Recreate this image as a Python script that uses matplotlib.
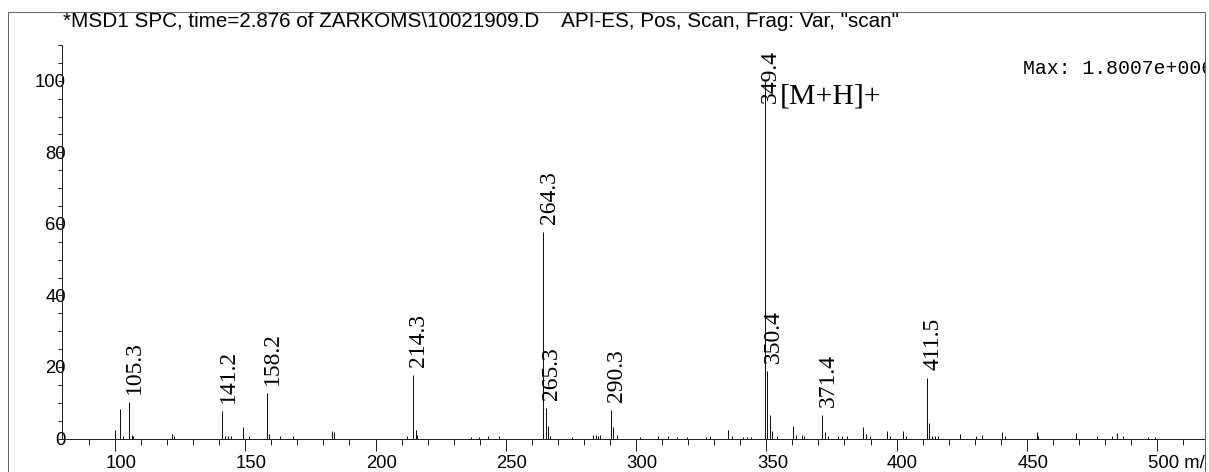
import matplotlib
matplotlib.use("Agg")
import matplotlib.pyplot as plt
from matplotlib.transforms import ScaledTranslation, Bbox, TransformedBbox
from matplotlib.patches import Rectangle

# ---------------- data ----------------
title = '*MSD1 SPC, time=2.876 of ZARKOMS\\10021909.D    API-ES, Pos, Scan, Frag: Var, "scan"'
max_text = "Max: 1.8007e+006"
ion_label = "[M+H]+"

labeled_mz = [105.3, 141.2, 158.2, 214.3, 264.3, 265.3, 290.3, 349.4, 350.4, 371.4, 411.5]
labeled_int = [10.1, 7.6, 12.6, 17.7, 57.8, 8.4, 7.9, 100.0, 18.9, 6.7, 17.0]

minor_mz = [100.0, 102.1, 103.1, 106.4, 106.9, 122.0, 122.7, 142.3, 143.4, 144.6,
            149.1, 151.3, 159.0, 163.5, 168.3, 183.3, 184.2, 212.2, 215.5, 216.1,
            236.5, 239.7, 243.0, 247.4, 266.2, 266.9, 275.3, 283.5, 284.5, 285.4,
            286.3, 291.3, 292.5, 301.5, 308.3, 312.4, 315.6, 319.5, 327.0, 328.5,
            335.4, 336.7, 341.0, 342.6, 344.0, 351.4, 352.3, 354.0, 360.4, 361.3,
            363.6, 364.6, 372.6, 373.5, 377.6, 379.0, 380.9, 387.3, 388.3, 389.8,
            396.5, 397.5, 402.6, 403.6, 412.4, 413.5, 414.6, 416.0, 424.5, 430.5,
            432.7, 440.6, 441.6, 453.8, 454.4, 468.9, 476.9, 482.6, 484.8, 487.0,
            496.5, 499.2]
minor_int = [2.3, 8.3, 0.6, 1.0, 0.7, 1.3, 0.6, 0.7, 0.7, 0.6,
             3.1, 0.8, 1.2, 0.6, 0.6, 2.2, 1.8, 0.7, 2.3, 0.9,
             0.5, 0.5, 0.6, 0.6, 3.4, 0.7, 0.5, 0.9, 1.0, 0.8,
             1.0, 3.2, 0.9, 0.5, 0.7, 0.6, 0.5, 0.5, 0.5, 0.6,
             2.3, 0.6, 0.5, 0.5, 0.5, 6.7, 2.2, 0.6, 3.4, 1.0,
             1.1, 0.7, 1.8, 0.8, 0.7, 0.6, 0.7, 3.1, 1.2, 0.6,
             2.0, 0.8, 2.0, 0.7, 4.4, 0.8, 0.7, 0.6, 1.2, 0.8,
             0.9, 1.8, 0.6, 1.8, 0.8, 1.6, 0.6, 0.7, 1.6, 0.8,
             0.5, 0.5]

x_major = [100, 150, 200, 250, 300, 350, 400, 450, 500]
x_labels = ["100", "150", "200", "250", "300", "350", "400", "450", "500 m/z"]
y_major = [0, 20, 40, 60, 80, 100]

# ---------------- figure ----------------
W, H, DPI = 1209, 472, 100
fig = plt.figure(figsize=(W / DPI, H / DPI), dpi=DPI)
px = 72.0 / DPI  # points per pixel

ax_l, ax_r, ax_t, ax_b = 62, 1205, 45, 438.5
ax = fig.add_axes([ax_l / W, (H - ax_b) / H, (ax_r - ax_l) / W, (ax_b - ax_t) / H])
ax.set_xlim(79.65, 518.4)
ax.set_ylim(0, 110)
for s in ["top", "right"]:
    ax.spines[s].set_visible(False)
for s in ["left", "bottom"]:
    ax.spines[s].set_linewidth(1 * px)
    ax.spines[s].set_color("#222222")
ax.patch.set_visible(False)

# peaks
ax.vlines(minor_mz, 0, minor_int, color="#111111", lw=1 * px)
ax.vlines(labeled_mz, 0, labeled_int, color="#111111", lw=1 * px)

# ticks
ax.set_xticks(x_major)
ax.set_xticklabels(x_labels)
ax.set_xticks(list(range(90, 520, 10)), minor=True)
ax.set_yticks(y_major)
ax.set_yticklabels([str(v) for v in y_major])
ax.set_yticks(list(range(0, 111, 5)), minor=True)
ax.tick_params(axis="x", which="major", direction="out", length=12 * px, width=1 * px,
               color="#222222", pad=5 * px, labelsize=13.3)
ax.tick_params(axis="x", which="minor", direction="out", length=6 * px, width=1 * px,
               color="#222222")
ax.tick_params(axis="y", which="both", direction="out", length=4 * px, width=1 * px,
               color="#222222", pad=-8 * px, labelsize=13.3)

clip = TransformedBbox(Bbox.from_extents(7 / W, -0.5, 1205 / W, 1 - 11 / H), fig.transFigure)

for lbl in ax.get_xticklabels() + ax.get_yticklabels():
    lbl.set_fontfamily("Liberation Sans")
for t in ax.xaxis.get_major_ticks():
    t.label1.set_horizontalalignment("left")
    t.label1.set_transform(t.label1.get_transform() +
                           ScaledTranslation(-9.5 / DPI, 0, fig.dpi_scale_trans))
    t.label1.set_clip_box(clip)
    t.label1.set_clip_on(True)

# peak labels
for m, h in zip(labeled_mz, labeled_int):
    if h > 90:
        tr = ax.transData + ScaledTranslation(6 / DPI, 0, fig.dpi_scale_trans)
        ax.text(m, 108.6, f"{m:.1f}", rotation=90, ha="center", va="top",
                fontsize=17, family="Liberation Serif", transform=tr, clip_on=False)
    else:
        tr = ax.transData + ScaledTranslation(6 / DPI, 8 / DPI, fig.dpi_scale_trans)
        ax.text(m, h, f"{m:.1f}", rotation=90, ha="center", va="bottom",
                fontsize=17, family="Liberation Serif", transform=tr, clip_on=False)

# [M+H]+ annotation
base_m = labeled_mz[labeled_int.index(max(labeled_int))]
tr = ax.transData + ScaledTranslation(15.5 / DPI, 0, fig.dpi_scale_trans)
ax.text(base_m, 93.7, ion_label, ha="left", va="baseline", fontsize=21.5,
        family="Liberation Serif", transform=tr)

# title and max
fig.text(63.3 / W, 1 - 27 / H, title, ha="left", va="baseline", fontsize=14.9,
         family="Liberation Sans")
mt = fig.text(1023 / W, 1 - 74 / H, max_text, ha="left", va="baseline", fontsize=14.3,
              family="Liberation Mono")
mt.set_clip_box(clip)
mt.set_clip_on(True)

# outer frame
fig.patches.append(Rectangle((7.5 / W, -0.2), (1205 - 7.5) / W, 1.2 - 11.5 / H,
                             transform=fig.transFigure, fill=False,
                             edgecolor="#666666", lw=1 * px))

fig.savefig("out.png", dpi=DPI)
